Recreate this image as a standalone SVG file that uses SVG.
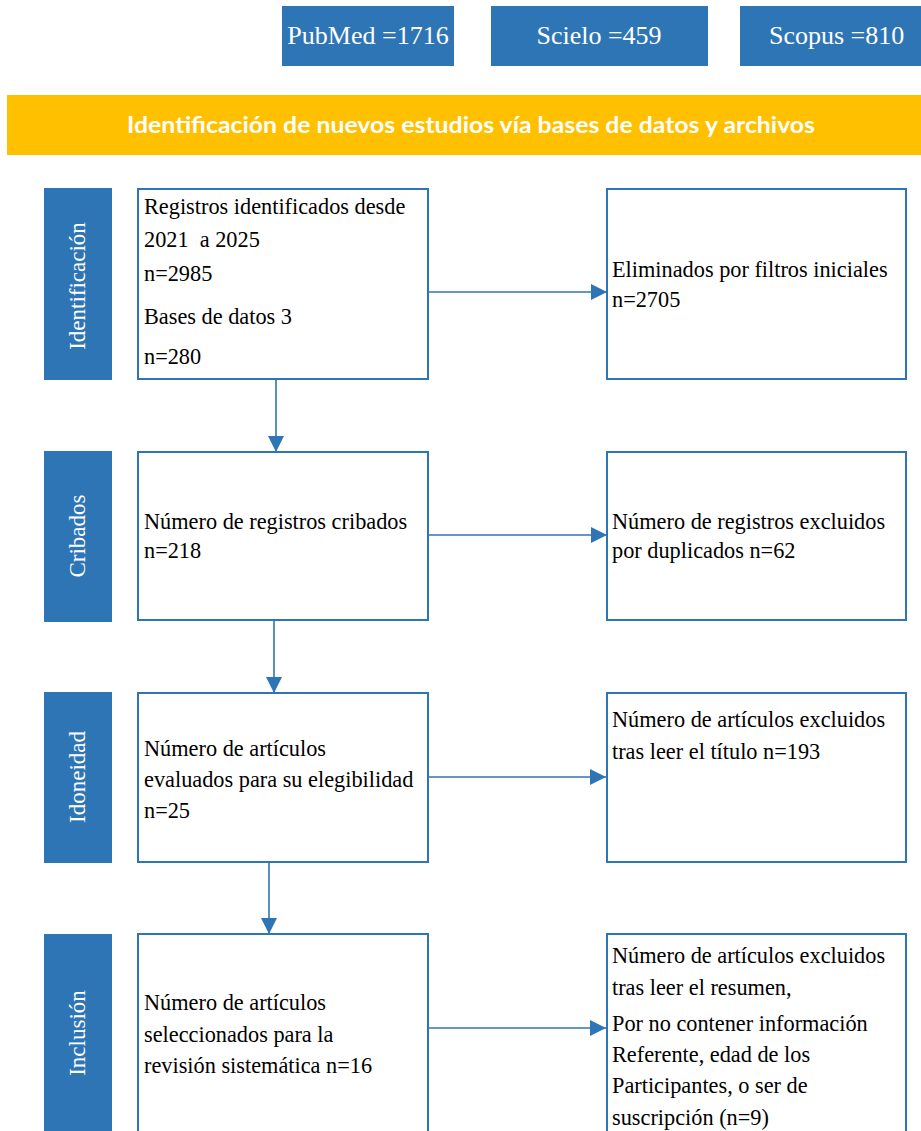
<svg xmlns="http://www.w3.org/2000/svg" width="921" height="1131" viewBox="0 0 921 1131">
<style>
.src{fill:#2E75B6}
.srct{font-family:"Liberation Serif","Times New Roman",serif;font-size:26px;fill:#ffffff}
.band{fill:#FFC000}
.title{font-family:Lato,"Open Sans","Liberation Sans",sans-serif;font-weight:700;font-size:22px;fill:#ffffff}
.side{fill:#2E75B6}
.sidet{font-family:"Liberation Serif","Times New Roman",serif;font-size:23px;fill:#ffffff}
.box{fill:#ffffff;stroke:#2E75B6;stroke-width:2}
.t{font-family:"Liberation Serif","Times New Roman",serif;font-size:22.3px;fill:#000000;white-space:pre}
.conn{stroke:#2E75B6;stroke-width:1.6;fill:none}
</style>
<defs>
<marker id="arr" markerUnits="userSpaceOnUse" markerWidth="17" markerHeight="16" refX="16" refY="8" orient="auto">
<path d="M0,0 L16,8 L0,16 z" fill="#2E75B6"/>
</marker>
</defs>
<rect width="921" height="1131" fill="#ffffff"/>

<g id="pubmed"><rect class="src" x="282" y="6" width="172" height="60"/><text class="srct" x="368" y="44" text-anchor="middle">PubMed =1716</text></g>
<g id="scielo"><rect class="src" x="491" y="6" width="217" height="60"/><text class="srct" x="599" y="44" text-anchor="middle">Scielo =459</text></g>
<g id="scopus"><rect class="src" x="740" y="6" width="181" height="60"/><text class="srct" x="769" y="44">Scopus =810</text></g>

<g id="title"><rect class="band" x="7" y="95" width="914" height="60"/><text class="title" x="127" y="133" textLength="688" lengthAdjust="spacingAndGlyphs">Identificación de nuevos estudios vía bases de datos y archivos</text></g>

<g id="lab-identificacion"><rect class="side" x="44" y="188" width="68" height="192"/><text class="sidet" transform="translate(85,286) rotate(-90)" text-anchor="middle">Identificación</text></g>
<g id="lab-cribados"><rect class="side" x="44" y="451" width="68" height="171"/><text class="sidet" transform="translate(85,536) rotate(-90)" text-anchor="middle">Cribados</text></g>
<g id="lab-idoneidad"><rect class="side" x="44" y="692" width="68" height="171"/><text class="sidet" transform="translate(85,777) rotate(-90)" text-anchor="middle">Idoneidad</text></g>
<g id="lab-inclusion"><rect class="side" x="44" y="934" width="68" height="200"/><text class="sidet" transform="translate(85,1033) rotate(-90)" text-anchor="middle">Inclusión</text></g>

<g id="registros"><rect class="box" x="138" y="189" width="290" height="190"/>
<text class="t" x="144" y="214">Registros identificados desde</text>
<text class="t" x="144" y="247" xml:space="preserve">2021  a 2025</text>
<text class="t" x="144" y="281">n=2985</text>
<text class="t" x="144" y="324">Bases de datos 3</text>
<text class="t" x="144" y="364">n=280</text></g>

<g id="eliminados"><rect class="box" x="607" y="189" width="299" height="190"/>
<text class="t" x="612" y="277">Eliminados por filtros iniciales</text>
<text class="t" x="612" y="307">n=2705</text></g>

<g id="cribados"><rect class="box" x="138" y="452" width="290" height="168"/>
<text class="t" x="144" y="529">Número de registros cribados</text>
<text class="t" x="144" y="558">n=218</text></g>

<g id="duplicados"><rect class="box" x="607" y="452" width="299" height="168"/>
<text class="t" x="612" y="529">Número de registros excluidos</text>
<text class="t" x="612" y="558">por duplicados n=62</text></g>

<g id="evaluados"><rect class="box" x="138" y="693" width="290" height="169"/>
<text class="t" x="144" y="756">Número de artículos</text>
<text class="t" x="144" y="787">evaluados para su elegibilidad</text>
<text class="t" x="144" y="818">n=25</text></g>

<g id="titulo"><rect class="box" x="607" y="693" width="299" height="169"/>
<text class="t" x="612" y="727">Número de artículos excluidos</text>
<text class="t" x="612" y="759">tras leer el título n=193</text></g>

<g id="seleccionados"><rect class="box" x="138" y="934" width="290" height="210"/>
<text class="t" x="144" y="1010">Número de artículos</text>
<text class="t" x="144" y="1042">seleccionados para la</text>
<text class="t" x="144" y="1073">revisión sistemática n=16</text></g>

<g id="resumen"><rect class="box" x="607" y="934" width="299" height="210"/>
<text class="t" x="612" y="963">Número de artículos excluidos</text>
<text class="t" x="612" y="995">tras leer el resumen,</text>
<text class="t" x="612" y="1031">Por no contener información</text>
<text class="t" x="612" y="1062">Referente, edad de los</text>
<text class="t" x="612" y="1093">Participantes, o ser de</text>
<text class="t" x="612" y="1125">suscripción (n=9)</text></g>

<g id="connectors">
<line class="conn" x1="276" y1="380" x2="276" y2="452" marker-end="url(#arr)"/>
<line class="conn" x1="274" y1="621" x2="274" y2="693" marker-end="url(#arr)"/>
<line class="conn" x1="269" y1="863" x2="269" y2="934" marker-end="url(#arr)"/>
<line class="conn" x1="429" y1="292" x2="607" y2="292" marker-end="url(#arr)"/>
<line class="conn" x1="429" y1="535" x2="607" y2="535" marker-end="url(#arr)"/>
<line class="conn" x1="429" y1="777" x2="606" y2="777" marker-end="url(#arr)"/>
<line class="conn" x1="429" y1="1028" x2="606" y2="1028" marker-end="url(#arr)"/>
</g>
</svg>
